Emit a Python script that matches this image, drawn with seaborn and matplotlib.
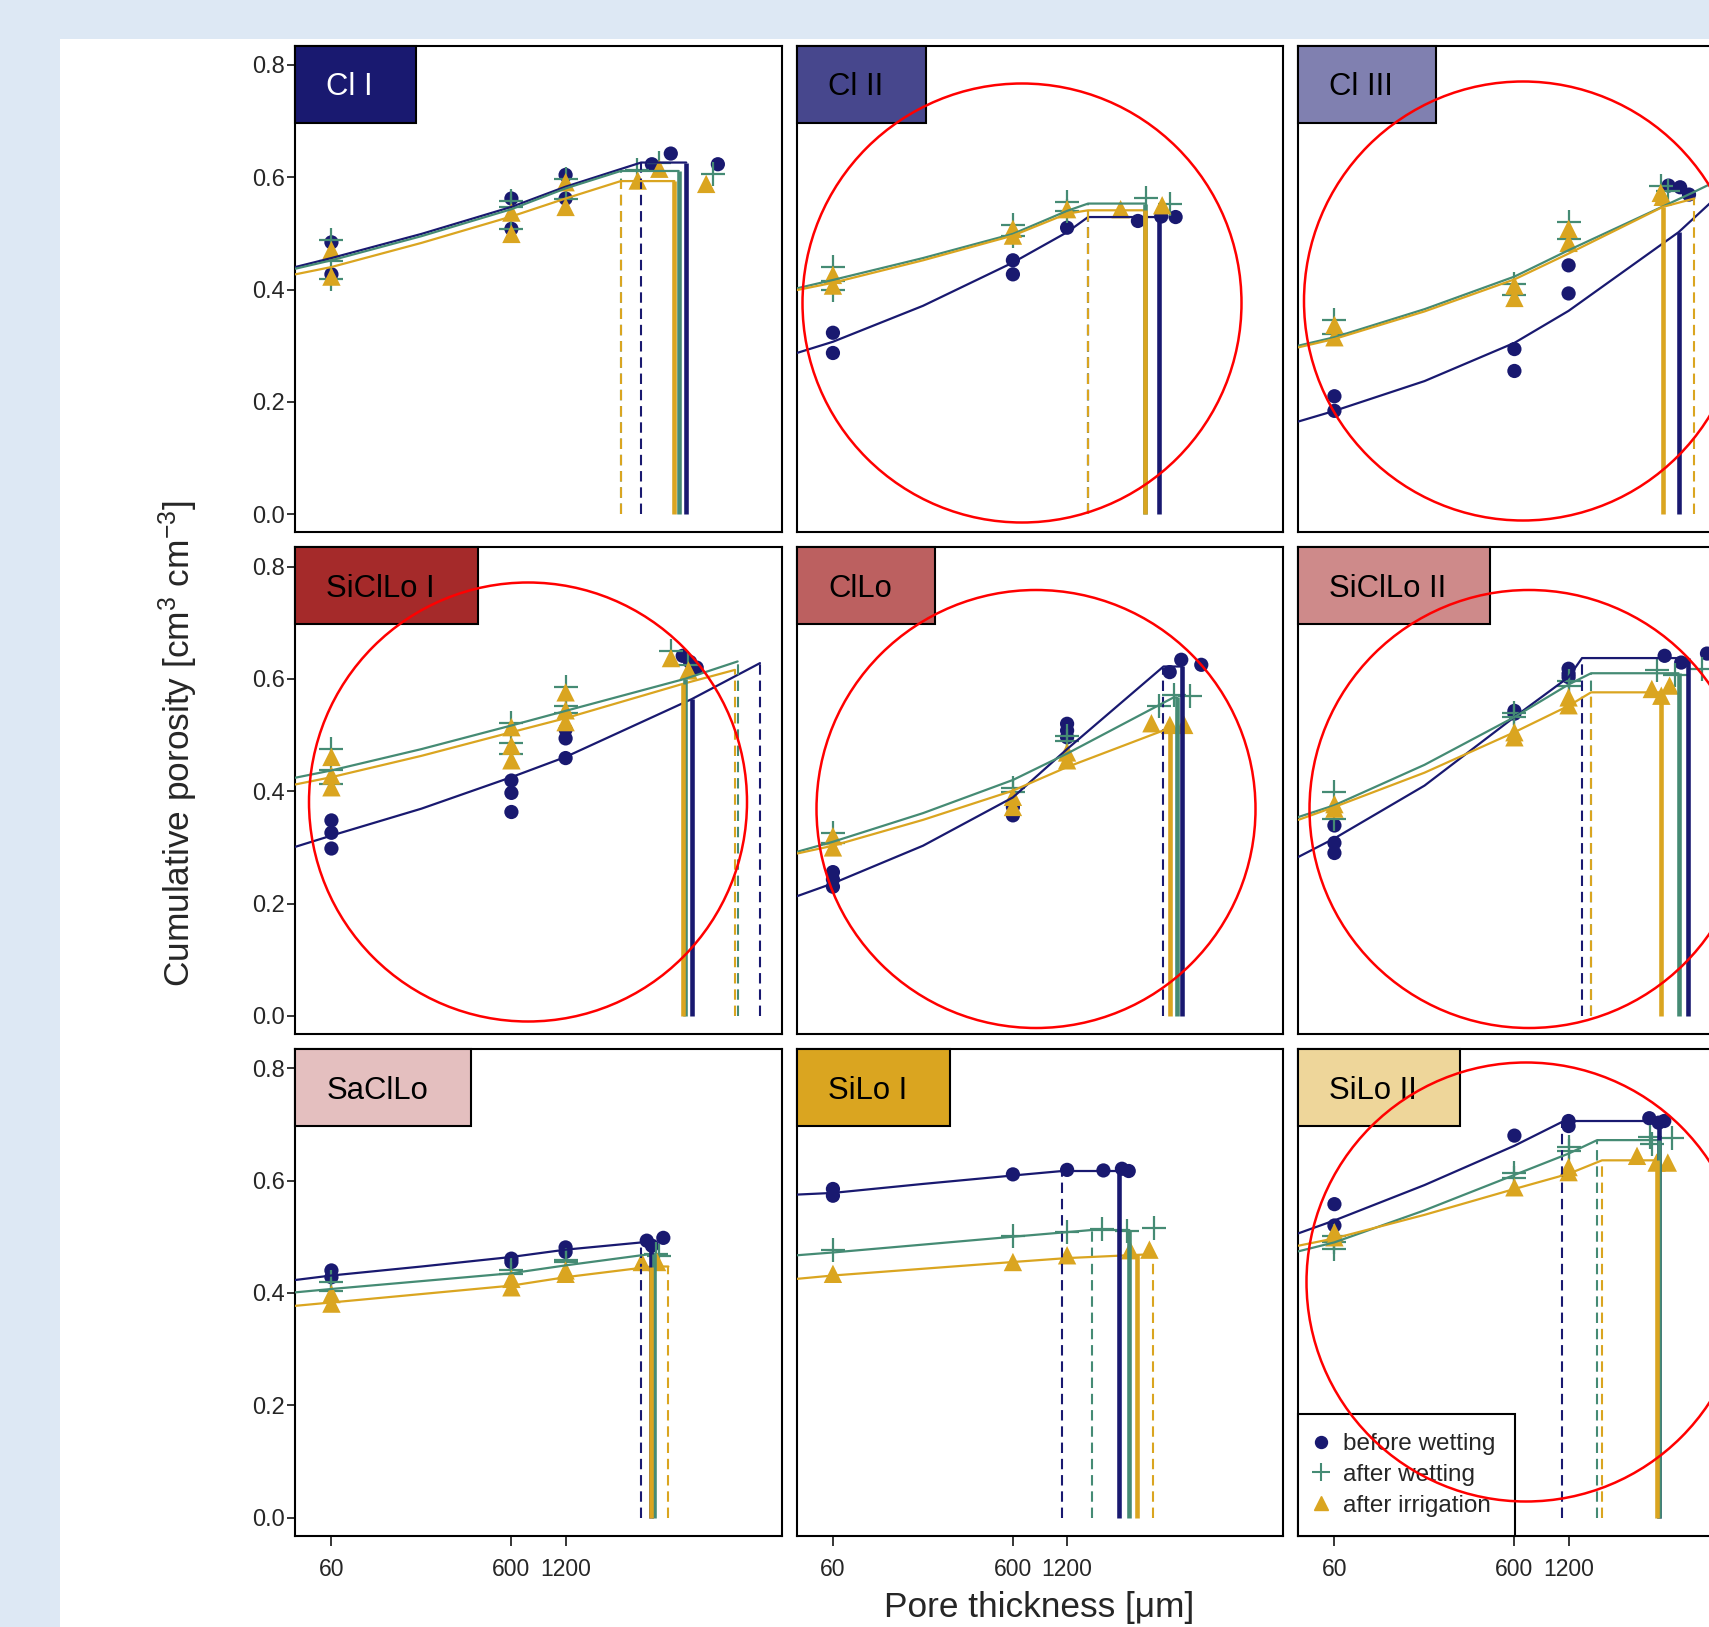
import numpy as np
import pandas as pd
import matplotlib
matplotlib.use("Agg")
import matplotlib.pyplot as plt
import matplotlib.transforms as mtransforms
from matplotlib.patches import Rectangle, Ellipse
from matplotlib.lines import Line2D
from matplotlib.ticker import NullLocator
import seaborn as sns

# ---------------- data ----------------
panels = ["Cl I", "Cl II", "Cl III", "SiClLo I", "ClLo", "SiClLo II", "SaClLo", "SiLo I", "SiLo II"]
panel_colors = ["#191970", "#47478D", "#8080B0", "#A52A2A", "#BC6060", "#CE8A8A", "#E4BFBF", "#DAA520", "#EED69A"]
panel_text_colors = ["white", "black", "black", "black", "black", "black", "black", "black", "black"]
series_names = ["before wetting", "after wetting", "after irrigation"]
series_colors = ["#191970", "#458B74", "#DAA520"]
x_ticks = [60, 600, 1200]
x_tick_labels = ["60", "600", "1200"]
y_ticks = [0.0, 0.2, 0.4, 0.6, 0.8]
y_tick_labels = ["0.0", "0.2", "0.4", "0.6", "0.8"]

points_before = {
    "Cl I": [(60, 0.484), (60, 0.427), (600, 0.562), (600, 0.508), (1200, 0.604), (1200, 0.562), (3620, 0.623), (4610, 0.642), (8420, 0.623)],
    "Cl II": [(60, 0.323), (60, 0.287), (600, 0.452), (600, 0.427), (1200, 0.510), (2970, 0.522), (4000, 0.530), (4810, 0.529)],
    "Cl III": [(60, 0.21), (60, 0.184), (600, 0.294), (600, 0.255), (1200, 0.443), (1200, 0.393), (4310, 0.585), (5000, 0.582), (5600, 0.569)],
    "SiClLo I": [(60, 0.348), (60, 0.326), (60, 0.298), (600, 0.419), (600, 0.397), (600, 0.363), (1200, 0.51), (1200, 0.494), (1200, 0.459), (5370, 0.641), (5900, 0.63), (6420, 0.62)],
    "ClLo": [(60, 0.256), (60, 0.243), (60, 0.23), (600, 0.372), (600, 0.357), (1200, 0.52), (1200, 0.508), (1200, 0.496), (4460, 0.612), (5170, 0.634), (6680, 0.625)],
    "SiClLo II": [(60, 0.339), (60, 0.308), (60, 0.29), (600, 0.543), (600, 0.538), (1200, 0.618), (1200, 0.609), (1200, 0.603), (4100, 0.641), (5070, 0.629), (7050, 0.645)],
    "SaClLo": [(60, 0.44), (60, 0.428), (600, 0.461), (600, 0.455), (1200, 0.481), (1200, 0.473), (3390, 0.493), (3620, 0.484), (4190, 0.498)],
    "SiLo I": [(60, 0.585), (60, 0.573), (600, 0.611), (1200, 0.619), (1910, 0.618), (2420, 0.621), (2640, 0.617)],
    "SiLo II": [(60, 0.558), (60, 0.52), (600, 0.68), (1200, 0.706), (1200, 0.697), (3370, 0.711), (3800, 0.703), (4080, 0.706)],
}
points_wet = {
    "Cl I": [(60, 0.489), (60, 0.45), (60, 0.419), (600, 0.557), (600, 0.547), (600, 0.508), (1200, 0.597), (1200, 0.562), (3000, 0.612), (3980, 0.625), (7900, 0.606)],
    "Cl II": [(60, 0.44), (60, 0.415), (60, 0.40), (600, 0.515), (600, 0.496), (1200, 0.555), (1200, 0.54), (3310, 0.563), (4500, 0.552)],
    "Cl III": [(60, 0.345), (60, 0.32), (600, 0.41), (600, 0.39), (1200, 0.52), (1200, 0.49), (3900, 0.585), (4300, 0.575)],
    "SiClLo I": [(60, 0.475), (60, 0.437), (60, 0.413), (600, 0.521), (600, 0.486), (600, 0.467), (1200, 0.586), (1200, 0.551), (1200, 0.54), (4650, 0.65), (5780, 0.625)],
    "ClLo": [(60, 0.326), (60, 0.307), (600, 0.405), (600, 0.398), (1200, 0.499), (1200, 0.49), (3870, 0.552), (4690, 0.572), (5800, 0.569)],
    "SiClLo II": [(60, 0.398), (60, 0.351), (600, 0.54), (600, 0.532), (1200, 0.597), (1200, 0.588), (3710, 0.615), (4670, 0.606), (6600, 0.617)],
    "SaClLo": [(60, 0.419), (60, 0.404), (600, 0.44), (600, 0.434), (1200, 0.458), (1200, 0.455), (3800, 0.47), (3950, 0.465)],
    "SiLo I": [(60, 0.476), (600, 0.502), (1200, 0.508), (1870, 0.514), (2580, 0.511), (3630, 0.516)],
    "SiLo II": [(60, 0.502), (60, 0.49), (60, 0.478), (600, 0.614), (600, 0.605), (1200, 0.659), (1200, 0.653), (3390, 0.677), (3500, 0.665), (4500, 0.676)],
}
points_irr = {
    "Cl I": [(60, 0.47), (60, 0.423), (600, 0.537), (600, 0.499), (1200, 0.591), (1200, 0.547), (3020, 0.594), (3980, 0.615), (7250, 0.588)],
    "Cl II": [(60, 0.426), (60, 0.407), (600, 0.508), (600, 0.496), (1200, 0.543), (2380, 0.543), (4050, 0.55)],
    "Cl III": [(60, 0.337), (60, 0.315), (600, 0.407), (600, 0.385), (1200, 0.508), (1200, 0.483), (3900, 0.572), (4000, 0.565)],
    "SiClLo I": [(60, 0.461), (60, 0.428), (60, 0.407), (600, 0.514), (600, 0.481), (600, 0.455), (1200, 0.576), (1200, 0.544), (1200, 0.523), (4620, 0.637), (5780, 0.615)],
    "ClLo": [(60, 0.32), (60, 0.30), (600, 0.39), (600, 0.372), (1200, 0.469), (1200, 0.455), (3530, 0.521), (4470, 0.518), (5370, 0.518)],
    "SiClLo II": [(60, 0.377), (60, 0.369), (600, 0.505), (600, 0.496), (1200, 0.567), (1200, 0.553), (3480, 0.582), (3930, 0.57), (4370, 0.588)],
    "SaClLo": [(60, 0.398), (60, 0.381), (600, 0.425), (600, 0.41), (1200, 0.44), (1200, 0.434), (3180, 0.455), (3870, 0.455)],
    "SiLo I": [(60, 0.434), (600, 0.455), (1200, 0.467), (2690, 0.476), (3440, 0.477)],
    "SiLo II": [(60, 0.508), (60, 0.499), (600, 0.588), (1200, 0.624), (1200, 0.615), (2880, 0.644), (3700, 0.632), (4270, 0.632)],
}

curve_before = {
    "Cl I": [(37.8, 0.44), (60, 0.456), (190, 0.499), (600, 0.547), (1200, 0.583), (3150, 0.626), (5620, 0.626)],
    "Cl II": [(37.8, 0.287), (60, 0.307), (190, 0.371), (600, 0.448), (1200, 0.502), (1570, 0.529), (3900, 0.529)],
    "Cl III": [(37.8, 0.165), (60, 0.184), (190, 0.237), (600, 0.305), (1200, 0.362), (4900, 0.502), (9000, 0.58)],
    "SiClLo I": [(37.8, 0.301), (60, 0.321), (190, 0.369), (600, 0.425), (1200, 0.461), (6030, 0.564), (14430, 0.628)],
    "ClLo": [(37.8, 0.213), (60, 0.236), (190, 0.303), (600, 0.389), (1200, 0.475), (4120, 0.622), (5250, 0.622)],
    "SiClLo II": [(37.8, 0.283), (60, 0.316), (190, 0.41), (600, 0.532), (1200, 0.603), (1425, 0.637), (5520, 0.637)],
    "SaClLo": [(37.8, 0.423), (60, 0.431), (190, 0.447), (600, 0.464), (1200, 0.477), (3200, 0.49), (3600, 0.49)],
    "SiLo I": [(37.8, 0.575), (60, 0.578), (190, 0.594), (600, 0.609), (1130, 0.617), (2320, 0.617)],
    "SiLo II": [(37.8, 0.506), (60, 0.529), (190, 0.592), (600, 0.662), (1130, 0.706), (3800, 0.706)],
}
curve_wet = {
    "Cl I": [(37.8, 0.437), (60, 0.452), (190, 0.495), (600, 0.543), (1200, 0.58), (2430, 0.611), (5100, 0.611)],
    "Cl II": [(37.8, 0.402), (60, 0.417), (190, 0.456), (600, 0.499), (1200, 0.54), (1570, 0.553), (3270, 0.553)],
    "Cl III": [(37.8, 0.30), (60, 0.315), (190, 0.365), (600, 0.423), (1200, 0.47), (5830, 0.572), (7600, 0.59)],
    "SiClLo I": [(37.8, 0.424), (60, 0.437), (190, 0.475), (600, 0.517), (1200, 0.543), (5520, 0.60), (10840, 0.631)],
    "ClLo": [(37.8, 0.292), (60, 0.31), (190, 0.361), (600, 0.42), (1200, 0.467), (4690, 0.567), (4900, 0.567)],
    "SiClLo II": [(37.8, 0.354), (60, 0.375), (190, 0.447), (600, 0.532), (1200, 0.59), (1600, 0.61), (4900, 0.61)],
    "SaClLo": [(37.8, 0.401), (60, 0.407), (190, 0.421), (600, 0.435), (1200, 0.449), (3720, 0.47)],
    "SiLo I": [(37.8, 0.467), (60, 0.472), (190, 0.486), (600, 0.5), (1650, 0.512), (2660, 0.512)],
    "SiLo II": [(37.8, 0.474), (60, 0.49), (190, 0.547), (600, 0.61), (1200, 0.648), (1730, 0.672), (3800, 0.672)],
}
curve_irr = {
    "Cl I": [(37.8, 0.427), (60, 0.44), (190, 0.483), (600, 0.53), (1200, 0.562), (2430, 0.593), (4830, 0.593)],
    "Cl II": [(37.8, 0.399), (60, 0.412), (190, 0.452), (600, 0.496), (1200, 0.535), (1570, 0.541), (3270, 0.541)],
    "Cl III": [(37.8, 0.297), (60, 0.312), (190, 0.361), (600, 0.418), (1200, 0.464), (4000, 0.547), (6000, 0.562)],
    "SiClLo I": [(37.8, 0.412), (60, 0.425), (190, 0.463), (600, 0.505), (1200, 0.53), (5370, 0.591), (10480, 0.616)],
    "ClLo": [(37.8, 0.289), (60, 0.303), (190, 0.349), (600, 0.401), (1200, 0.443), (4180, 0.509), (4470, 0.509)],
    "SiClLo II": [(37.8, 0.349), (60, 0.372), (190, 0.433), (600, 0.505), (1200, 0.552), (1600, 0.576), (3930, 0.576)],
    "SaClLo": [(37.8, 0.377), (60, 0.383), (190, 0.398), (600, 0.413), (1200, 0.428), (3630, 0.447), (4470, 0.447)],
    "SiLo I": [(37.8, 0.425), (60, 0.431), (190, 0.443), (600, 0.455), (1200, 0.462), (3600, 0.469)],
    "SiLo II": [(37.8, 0.484), (60, 0.497), (190, 0.539), (600, 0.585), (1200, 0.612), (1840, 0.636), (3700, 0.636)],
}

# vertical lines: (x, top of line)
solid_before = {"Cl I": (5620, 0.626), "Cl II": (3900, 0.529), "Cl III": (4900, 0.502), "SiClLo I": (6030, 0.564), "ClLo": (5250, 0.622), "SiClLo II": (5520, 0.637), "SaClLo": (3600, 0.49), "SiLo I": (2320, 0.617), "SiLo II": (3800, 0.706)}
dashed_before = {"Cl I": (3150, 0.626), "Cl II": (1570, 0.529), "Cl III": (9000, 0.58), "SiClLo I": (14430, 0.628), "ClLo": (4080, 0.62), "SiClLo II": (1425, 0.637), "SaClLo": (3160, 0.49), "SiLo I": (1130, 0.617), "SiLo II": (1110, 0.706)}
solid_wet = {"Cl I": (5100, 0.611), "Cl II": (3270, 0.553), "Cl III": (7600, 0.59), "SiClLo I": (5520, 0.60), "ClLo": (4900, 0.567), "SiClLo II": (4900, 0.61), "SaClLo": (3720, 0.47), "SiLo I": (2660, 0.512), "SiLo II": (3800, 0.672)}
dashed_wet = {"Cl I": (2430, 0.611), "Cl II": (1570, 0.553), "Cl III": (7600, 0.59), "SiClLo I": (10840, 0.631), "ClLo": (4900, 0.567), "SiClLo II": (1600, 0.61), "SaClLo": (3720, 0.47), "SiLo I": (1650, 0.512), "SiLo II": (1730, 0.672)}
solid_irr = {"Cl I": (4830, 0.593), "Cl II": (3270, 0.541), "Cl III": (4000, 0.547), "SiClLo I": (5370, 0.591), "ClLo": (4470, 0.509), "SiClLo II": (3930, 0.576), "SaClLo": (3560, 0.447), "SiLo I": (2930, 0.469), "SiLo II": (3700, 0.636)}
dashed_irr = {"Cl I": (2430, 0.593), "Cl II": (1570, 0.541), "Cl III": (6000, 0.562), "SiClLo I": (10480, 0.616), "ClLo": (4470, 0.509), "SiClLo II": (1600, 0.576), "SaClLo": (4470, 0.447), "SiLo I": (3600, 0.469), "SiLo II": (1840, 0.636)}

# red annotation ellipses (figure pixels): panel, centre x, centre y, width, height
red_marks_panel = ["Cl II", "Cl III", "SiClLo I", "ClLo", "SiClLo II", "SiLo II"]
red_marks_cx = [1022, 1523, 528, 1036, 1529, 1526]
red_marks_cy = [303, 301, 802, 809, 809, 1282]
red_marks_w = [439, 438, 438, 439, 439, 439]
red_marks_h = [439, 439, 439, 438, 438, 439]

# ---------------- tables ----------------
pt_rows, cv_rows = [], []
for s, d in zip(series_names, [points_before, points_wet, points_irr]):
    for p, pts in d.items():
        for x, y in pts:
            pt_rows.append((p, s, x, y))
for s, d in zip(series_names, [curve_before, curve_wet, curve_irr]):
    for p, pts in d.items():
        for k, (x, y) in enumerate(pts):
            cv_rows.append((p, s, k, x, y))
df_pts = pd.DataFrame(pt_rows, columns=["panel", "series", "x", "y"])
df_cv = pd.DataFrame(cv_rows, columns=["panel", "series", "order", "x", "y"])
solids = dict(zip(series_names, [solid_before, solid_wet, solid_irr]))
dashes = dict(zip(series_names, [dashed_before, dashed_wet, dashed_irr]))

# ---------------- style ----------------
sns.set_style("white")
plt.rcParams["font.family"] = ["Liberation Sans", "DejaVu Sans"]
plt.rcParams["mathtext.fontset"] = "custom"
plt.rcParams["mathtext.rm"] = "Liberation Sans"
plt.rcParams["mathtext.it"] = "Liberation Sans:italic"
plt.rcParams["mathtext.bf"] = "Liberation Sans:bold"

W, H = 1709, 1627
fig = plt.figure(figsize=(W / 100, H / 100), dpi=100, facecolor="#DDE8F4")
bg = Rectangle((60 / W, 0), 1 - 60 / W, (H - 39) / H, transform=fig.transFigure,
               facecolor="white", edgecolor="none", zorder=-10)
fig.add_artist(bg)

markers = {"before wetting": ("o", 105, 0), "after wetting": ("+", 290, 1.6), "after irrigation": ("^", 175, 0)}

PX0, PY0, STEPX, STEPY, PW, PH = 295.4, 45.7, 501.5, 501.7, 486.5, 486.5
axes = []
for i, name in enumerate(panels):
    r, c = divmod(i, 3)
    left = PX0 + STEPX * c
    top = PY0 + STEPY * r
    ax = fig.add_axes([left / W, 1 - (top + PH) / H, PW / W, PH / H])
    ax.set_facecolor("white")
    ax.set_xscale("log")
    for s, col in zip(series_names, series_colors):
        mk, sz, lw = markers[s]
        sub = df_pts[(df_pts.panel == name) & (df_pts.series == s)]
        if mk == "+":
            sns.scatterplot(data=sub, x="x", y="y", ax=ax, marker="+", s=sz, color=col,
                            linewidth=lw, legend=False, zorder=3)
        else:
            sns.scatterplot(data=sub, x="x", y="y", ax=ax, marker=mk, s=sz, color=col,
                            edgecolor="none", linewidth=0, legend=False, zorder=3)
    for s, col in zip(series_names, series_colors):
        subc = df_cv[(df_cv.panel == name) & (df_cv.series == s)].sort_values("order")
        sns.lineplot(data=subc, x="x", y="y", ax=ax, color=col, linewidth=1.6,
                     estimator=None, sort=False, legend=False, zorder=4)
        dx, dtop = dashes[s][name]
        ax.plot([dx, dx], [0, dtop], color=col, lw=1.5, ls=(0, (5, 2.8)), zorder=4)
    for s, col in zip(series_names, series_colors):
        sx, stop = solids[s][name]
        ax.plot([sx, sx], [0, stop], color=col, lw=3.3, solid_capstyle="butt", zorder=4)

    ax.set_xlim(37.84, 19100)
    ax.set_ylim(-0.032, 0.834)
    ax.set_xlabel("")
    ax.set_ylabel("")
    ax.set_xticks(x_ticks, labels=x_tick_labels)
    ax.xaxis.set_minor_locator(NullLocator())
    ax.set_yticks(y_ticks, labels=y_tick_labels)
    ax.tick_params(axis="x", direction="out", length=7, width=1.1, labelsize=16.5, pad=9,
                   bottom=(r == 2), labelbottom=(r == 2), color="black")
    ax.tick_params(axis="y", direction="out", length=5.8, width=1.1, labelsize=17, pad=2,
                   left=(c == 0), labelleft=(c == 0), color="black")
    for sp in ax.spines.values():
        sp.set_color("black")
        sp.set_linewidth(1.5)
        sp.set_visible(True)
    trans = mtransforms.offset_copy(ax.transAxes, fig=fig, x=31, y=-49.5, units="dots")
    t = ax.text(0, 1, name, transform=trans, ha="left", va="baseline", fontsize=22.3,
                color=panel_text_colors[i], zorder=7)
    axes.append((ax, t))

# panel label boxes sized to the text
fig.canvas.draw()
renderer = fig.canvas.get_renderer()
for i, (ax, t) in enumerate(axes):
    bb = t.get_window_extent(renderer)
    abb = ax.get_window_extent(renderer)
    wpx = 31 + bb.width + 43
    hpx = 77
    ax.add_patch(Rectangle((0, 1 - hpx / abb.height), wpx / abb.width, hpx / abb.height,
                           transform=ax.transAxes, facecolor=panel_colors[i], edgecolor="black",
                           linewidth=1.5, zorder=6, clip_on=False))

# legend in last panel
ax9 = axes[8][0]
handles = [Line2D([], [], ls="none", marker="o", color=series_colors[0], markersize=8.6),
           Line2D([], [], ls="none", marker="+", color=series_colors[1], markersize=13, markeredgewidth=1.5),
           Line2D([], [], ls="none", marker="^", color=series_colors[2], markersize=9.5)]
leg = ax9.legend(handles, series_names, loc="lower left", bbox_to_anchor=(0, 0), borderaxespad=0,
                 frameon=True, fancybox=False, edgecolor="black", framealpha=1, fontsize=17.5,
                 borderpad=0.78, handlelength=0.3, handletextpad=0.77, labelspacing=0.36)
leg.get_frame().set_linewidth(1.5)
leg.set_zorder(8)

# axis titles
fig.text(178 / W, 1 - 744 / H, "Cumulative porosity [cm$^{3}$ cm$^{-3}$]", rotation=90,
         ha="center", va="center", fontsize=25.4)
fig.text(1039 / W, 1 - 1608 / H, "Pore thickness [μm]", ha="center", va="center", fontsize=25.4)

# red annotation ellipses drawn over the figure
ov = fig.add_axes([0, 0, 1, 1], zorder=20)
ov.set_xlim(0, W)
ov.set_ylim(H, 0)
ov.axis("off")
for cx, cy, ew, eh in zip(red_marks_cx, red_marks_cy, red_marks_w, red_marks_h):
    ov.add_patch(Ellipse((cx, cy), ew, eh, fill=False, edgecolor="red", linewidth=1.8))

fig.savefig("out.png", dpi=100, facecolor=fig.get_facecolor())
